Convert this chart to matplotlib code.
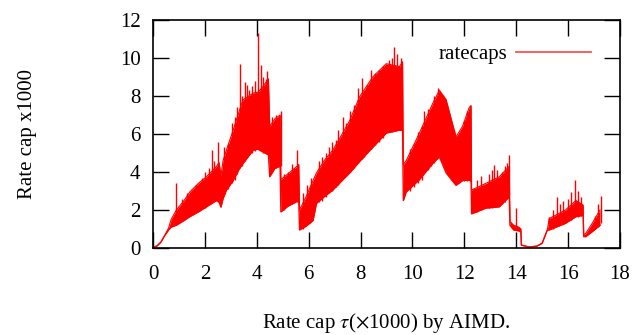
import matplotlib
matplotlib.use("Agg")
import matplotlib.pyplot as plt

plt.rcParams["font.family"] = ["Liberation Serif", "DejaVu Serif"]
plt.rcParams["mathtext.fontset"] = "stix"

RED = "#ff0000"
FS = 15

# envelope of the rate-cap trace (x in thousands, low / high edge of the band)
env_x = [0.00, 0.15, 0.30, 0.45, 0.60, 0.70, 0.90, 1.20, 1.42, 1.75, 2.06, 2.45,
         2.55, 2.62, 2.70, 2.83, 3.09, 3.30, 3.47, 3.86, 4.05, 4.24, 4.45, 4.50,
         4.70, 4.90, 4.93, 5.20, 5.55, 5.62, 5.65, 5.90, 6.17, 6.30, 6.60, 6.93,
         7.25, 7.58, 7.96, 8.47, 8.99, 9.50, 9.62, 9.65, 9.76, 10.27, 10.78, 11.04,
         11.30, 11.68, 11.93, 12.19, 12.26, 12.28, 12.83, 13.35, 13.73, 13.76, 13.90,
         14.10, 14.18, 14.20, 14.50, 14.80, 15.00, 15.20, 15.27, 15.90, 16.30, 16.58,
         16.60, 16.68, 16.93, 17.23]
env_lo = [0.05, 0.10, 0.30, 0.65, 0.95, 1.10, 1.20, 1.45, 1.65, 1.90, 2.17, 2.50,
          2.40, 2.15, 2.60, 3.05, 3.55, 4.10, 4.45, 5.15, 5.20, 5.05, 4.90, 3.75,
          4.20, 4.30, 1.90, 2.20, 2.45, 2.40, 0.95, 1.15, 1.45, 2.35, 2.70, 3.05,
          3.50, 3.95, 4.55, 5.30, 6.05, 6.20, 6.20, 2.50, 2.95, 3.60, 4.45, 4.80,
          3.95, 3.30, 3.55, 3.58, 3.50, 1.80, 2.10, 2.17, 2.70, 1.20, 0.95,
          0.90, 0.85, 0.15, 0.05, 0.10, 0.25, 0.95, 0.95, 1.30, 1.65, 1.72,
          0.60, 0.60, 0.86, 1.20]
env_hi = [0.05, 0.10, 0.30, 0.65, 1.05, 1.50, 2.00, 2.50, 2.95, 3.40, 3.75, 4.30,
          4.50, 3.80, 4.60, 5.15, 6.20, 7.10, 7.80, 8.15, 8.20, 8.50, 8.90, 6.40,
          6.80, 7.00, 3.60, 3.90, 4.30, 4.40, 2.00, 2.70, 3.55, 3.95, 4.60, 5.15,
          5.90, 6.70, 7.95, 9.00, 9.70, 9.55, 9.80, 4.40, 4.60, 6.05, 7.60, 8.30,
          7.80, 5.85, 6.40, 7.40, 7.50, 3.05, 3.40, 3.75, 4.30, 1.40, 1.20,
          1.10, 1.00, 0.15, 0.05, 0.10, 0.25, 0.95, 1.55, 2.00, 2.50, 2.26,
          0.70, 0.77, 1.30, 2.00]

# spikes sticking out of the band: x, bottom, top
spike_x = [0.88, 1.10, 1.30, 1.65, 1.90, 2.00, 2.15, 2.26, 2.35, 2.51, 2.75, 2.90,
           3.05, 3.15, 3.25, 3.35, 3.45, 3.54, 3.62, 3.70, 3.80, 3.95, 4.05, 4.15,
           4.25, 4.35, 4.40, 4.60, 4.75, 4.92,
           5.05, 5.20, 5.35, 5.45, 5.56,
           5.80, 5.95, 6.05, 6.10, 6.40, 6.50, 6.65, 6.77, 6.90, 7.05, 7.15, 7.32,
           7.45, 7.60, 7.75, 7.90, 8.06, 8.15, 8.25, 8.40, 8.55, 8.73, 8.85, 9.10,
           9.20, 9.28, 9.40, 9.55,
           9.90, 10.05, 10.20, 10.35, 10.46, 10.60, 10.70, 10.85, 10.97, 11.10,
           11.17, 11.25, 11.40, 11.50, 11.60, 11.80, 12.00, 12.10,
           12.38, 12.50, 12.65, 12.95, 13.05, 13.15, 13.25, 13.45, 13.55, 13.65, 13.73,
           14.01,
           15.27, 15.40, 15.56, 15.70, 15.80, 16.00, 16.10, 16.26, 16.40, 16.50,
           17.05, 17.15, 17.26]
spike_lo = [1.40, 1.60, 1.70, 1.90, 2.10, 2.10, 2.30, 2.60, 2.50, 2.80, 2.80, 3.10,
            3.40, 3.60, 3.90, 4.30, 4.30, 4.60, 4.80, 5.00, 5.00, 5.10, 5.20, 5.10,
            5.00, 5.00, 5.00, 4.00, 4.20, 4.30,
            2.00, 2.20, 2.30, 2.40, 2.50,
            1.00, 1.20, 1.30, 1.80, 2.40, 2.50, 2.70, 3.20, 3.00, 3.20, 3.30, 3.80,
            3.80, 4.00, 4.20, 4.50, 4.70, 4.80, 5.00, 5.20, 5.40, 5.60, 5.80, 6.10,
            6.10, 6.30, 6.20, 6.20,
            3.00, 3.20, 3.40, 3.60, 4.10, 4.10, 4.30, 4.50, 4.80, 4.70,
            4.70, 4.20, 3.80, 3.60, 3.40, 3.40, 3.55, 3.55,
            1.90, 1.90, 2.00, 2.10, 2.10, 2.20, 2.15, 2.30, 2.40, 2.60, 2.80,
            1.00,
            1.00, 1.00, 1.15, 1.20, 1.30, 1.40, 1.45, 1.65, 1.65, 1.70,
            1.00, 1.10, 1.30]
spike_top = [3.40, 2.60, 2.90, 3.30, 3.70, 4.00, 4.20, 5.16, 4.60, 5.60, 5.30, 5.50,
             6.60, 6.90, 7.40, 9.70, 8.00, 8.75, 8.60, 8.30, 8.50, 8.80, 11.30, 9.63,
             9.00, 8.90, 9.30, 6.90, 7.00, 7.20,
             3.90, 4.00, 4.40, 4.20, 5.16,
             2.90, 3.30, 3.20, 3.67, 4.60, 4.80, 5.00, 5.33, 5.60, 5.70, 6.20, 6.90,
             6.60, 7.20, 7.50, 8.40, 8.93, 8.20, 8.60, 9.37, 9.20, 9.37, 9.60, 9.90,
             10.00, 10.60, 10.20, 10.00,
             5.20, 5.50, 6.10, 6.40, 7.20, 7.30, 7.30, 8.00, 8.40, 8.10,
             8.05, 7.90, 7.00, 6.60, 6.20, 6.00, 6.70, 7.20,
             3.15, 3.60, 3.80, 3.90, 4.10, 4.37, 4.10, 4.00, 4.30, 4.50, 4.90,
             2.10,
             1.65, 2.00, 2.70, 2.30, 2.50, 2.60, 2.96, 3.58, 3.00, 2.70,
             1.70, 2.30, 2.73]

x_ticks = [0, 2, 4, 6, 8, 10, 12, 14, 16, 18]
y_ticks = [0, 2, 4, 6, 8, 10, 12]

fig = plt.figure(figsize=(6.34, 3.35), dpi=100, facecolor="white")
ax = fig.add_axes([0.2413, 0.2597, 0.7366, 0.6806])

ax.fill_between(env_x, env_lo, env_hi, color=RED, lw=0)
ax.plot(env_x, env_lo, color=RED, lw=1)
ax.plot(env_x, env_hi, color=RED, lw=0.8)
ax.vlines(spike_x, spike_lo, spike_top, color=RED, lw=1)
ax.plot([], [], color="#ff5050", lw=1.3, label="ratecaps")

ax.set_xlim(0, 18)
ax.set_ylim(0, 12)
ax.set_xticks(x_ticks)
ax.set_yticks(y_ticks)
ax.tick_params(direction="in", length=11.5, width=1, labelsize=FS,
               top=True, right=True)
ax.tick_params(axis="x", pad=12)
ax.tick_params(axis="y", pad=9)
for s in ax.spines.values():
    s.set_linewidth(1.2)

ax.set_xlabel(r"Rate cap $\tau$($\times$1000) by AIMD.", fontsize=FS, labelpad=20)
fig.text(0.044, 0.6, "Rate cap x1000", rotation=90, fontsize=FS,
         ha="center", va="center")

ax.legend(loc="upper right", bbox_to_anchor=(0.979, 0.975), frameon=False,
          markerfirst=False, fontsize=FS, handlelength=3.6, handletextpad=0.45)

fig.savefig("out.png", dpi=100, facecolor="white")
